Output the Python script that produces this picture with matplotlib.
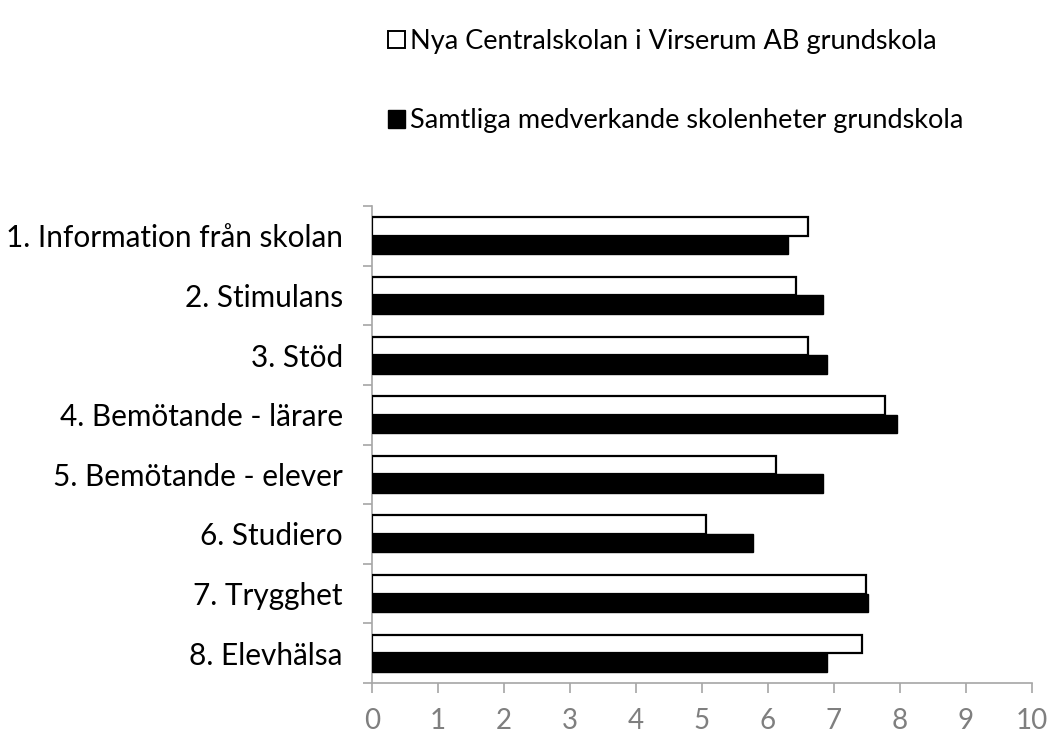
import matplotlib
matplotlib.use("Agg")
import matplotlib.pyplot as plt
from matplotlib.patches import Patch
import numpy as np

categories = ["1. Information från skolan", "2. Stimulans", "3. Stöd",
              "4. Bemötande - lärare", "5. Bemötande - elever", "6. Studiero",
              "7. Trygghet", "8. Elevhälsa"]
school = [6.61, 6.42, 6.61, 7.78, 6.12, 5.06, 7.49, 7.43]
all_units = [6.31, 6.83, 6.89, 7.95, 6.83, 5.77, 7.52, 6.89]
series_names = ["Nya Centralskolan i Virserum AB grundskola",
                "Samtliga medverkande skolenheter grundskola"]
x_ticks = list(range(0, 11))

plt.rcParams['font.family'] = ['Lato', 'DejaVu Sans']

fig = plt.figure(figsize=(10.5, 7.33), dpi=100)
ax = fig.add_axes([372/1050, 1 - 683/733, (1032-372)/1050, (683-206)/733])

y = np.arange(len(categories))
h = 0.31
ax.barh(y - h/2, school, height=h, color='white', edgecolor='black', linewidth=1.6, zorder=3)
ax.barh(y + h/2, all_units, height=h, color='black', edgecolor='black', linewidth=1.0, zorder=3)

ax.set_xlim(0, 10)
ax.set_ylim(len(categories) - 0.5, -0.5)
ax.set_xticks(x_ticks)
ax.set_xticklabels([str(t) for t in x_ticks], fontsize=20, color='#7f7f7f')
ax.set_yticks(y)
ax.set_yticklabels(categories, fontsize=21.4, color='black')
ax.set_yticks(np.arange(len(categories) + 1) - 0.5, minor=True)
ax.tick_params(axis='y', which='major', length=0, pad=21)
ax.tick_params(axis='y', which='minor', length=6.5, width=1.2, color='#a6a6a6')
ax.tick_params(axis='x', which='major', length=7.2, width=1.2, color='#a6a6a6', pad=11)

for s in ['top', 'right']:
    ax.spines[s].set_visible(False)
for s in ['left', 'bottom']:
    ax.spines[s].set_color('#a6a6a6')
    ax.spines[s].set_linewidth(1.2)

handles = [Patch(facecolor='white', edgecolor='black', linewidth=1.4),
           Patch(facecolor='black', edgecolor='black')]
fig.legend(handles, series_names, loc='upper left', bbox_to_anchor=(388/1050, 1 - 29/733),
           frameon=False, fontsize=19.5, labelspacing=2.0, handlelength=0.63, handleheight=0.63,
           handletextpad=0.19, borderpad=0, borderaxespad=0)

fig.savefig("out.png", dpi=100)
